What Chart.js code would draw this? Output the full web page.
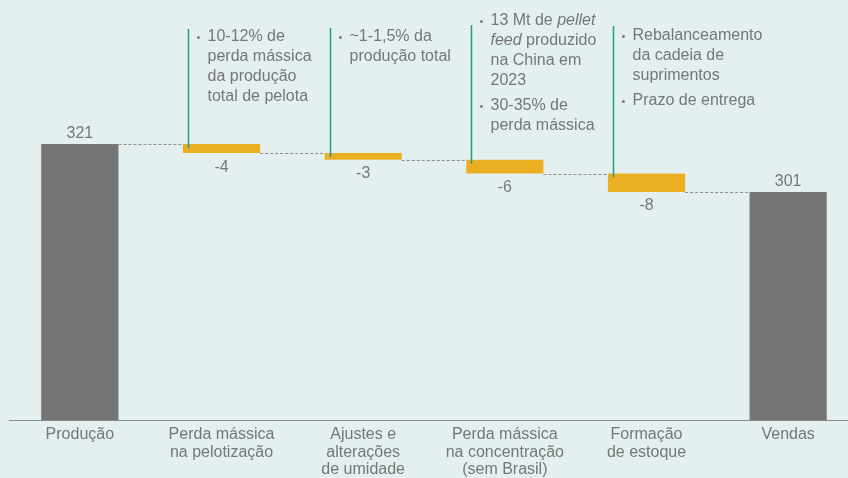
<!DOCTYPE html>
<html>
<head>
<meta charset="utf-8">
<title>Produção x Vendas</title>
<script src="https://cdn.jsdelivr.net/npm/chart.js@4.4.1/dist/chart.umd.min.js"></script>
<style>
  html, body { margin: 0; padding: 0; background: #e4f0f0; overflow: hidden; }
  #wrap { width: 859px; height: 478px; position: relative; }
</style>
</head>
<body>
<div id="wrap"><canvas id="chart"></canvas></div>
<script>
// Data
const categories = [
  ['Produção'],
  ['Perda mássica', 'na pelotização'],
  ['Ajustes e', 'alterações', 'de umidade'],
  ['Perda mássica', 'na concentração', '(sem Brasil)'],
  ['Formação', 'de estoque'],
  ['Vendas']
];
const startTotal = 321;
const endTotal = 301;
const deltas = [-3.8, -2.8, -5.7, -7.7];
const deltaLabels = ['-4', '-3', '-6', '-8'];
const totalLabels = ['321', '301'];

// Bullet notes per step bar; *text* = italic
const notes = [
  [['10-12% de', 'perda mássica', 'da produção', 'total de pelota']],
  [['~1-1,5% da', 'produção total']],
  [['13 Mt de *pellet*', '*feed* produzido', 'na China em', '2023'], ['30-35% de', 'perda mássica']],
  [['Rebalanceamento', 'da cadeia de', 'suprimentos'], ['Prazo de entrega']]
];

// Layout of the note blocks (pixels)
const noteTextY = [37, 37, 21, 36];
const noteLineTop = [29, 28, 25, 26];

const Y_MIN = 206;
const Y_MAX = 381;

const GREY = '#757575';
const YELLOW = '#ebb022';
const TEAL = '#1f9a8c';
const TEXT = '#767676';
const FONT = '"Liberation Sans", Arial, sans-serif';

// build floating bars
const barData = [];
const levels = [];
let running = startTotal;
barData.push([Y_MIN, startTotal]);
levels.push(startTotal);
deltas.forEach(d => {
  const next = running + d;
  barData.push([next, running]);
  levels.push(next);
  running = next;
});
barData.push([Y_MIN, endTotal]);
levels.push(endTotal);

const colors = barData.map((_, i) => (i === 0 || i === barData.length - 1) ? GREY : YELLOW);

function drawRich(ctx, str, x, y) {
  const parts = str.split('*');
  let cx = x;
  parts.forEach((p, k) => {
    if (!p) return;
    ctx.font = (k % 2 ? 'italic ' : '') + '16px ' + FONT;
    ctx.fillText(p, cx, y);
    cx += ctx.measureText(p).width;
  });
}

const waterfallExtras = {
  id: 'waterfallExtras',
  afterDatasetsDraw(chart) {
    const ctx = chart.ctx;
    const y = chart.scales.y;
    const bars = chart.getDatasetMeta(0).data;
    ctx.save();

    // dashed connectors
    ctx.strokeStyle = '#8e8e8e';
    ctx.lineWidth = 1;
    ctx.setLineDash([3, 2]);
    for (let i = 0; i < bars.length - 1; i++) {
      const a = bars[i], b = bars[i + 1];
      const py = Math.round(y.getPixelForValue(levels[i])) + 0.5;
      ctx.beginPath();
      ctx.moveTo(a.x + a.width / 2, py);
      ctx.lineTo(b.x - b.width / 2, py);
      ctx.stroke();
    }
    ctx.setLineDash([]);

    // value labels
    ctx.fillStyle = TEXT;
    ctx.font = '16px ' + FONT;
    ctx.textAlign = 'center';
    ctx.textBaseline = 'alphabetic';
    const first = bars[0], last = bars[bars.length - 1];
    ctx.fillText(totalLabels[0], first.x, Math.min(first.y, first.base) - 6);
    ctx.fillText(totalLabels[1], last.x, Math.min(last.y, last.base) - 6);
    ctx.textBaseline = 'top';
    deltaLabels.forEach((lbl, i) => {
      const b = bars[i + 1];
      ctx.fillText(lbl, b.x, Math.max(b.y, b.base) + 6);
    });

    // note lines + text
    notes.forEach((groups, i) => {
      const b = bars[i + 1];
      const lx = Math.round(b.x - b.width / 2 + 5) + 0.5;
      const top = Math.min(b.y, b.base);
      ctx.strokeStyle = TEAL;
      ctx.lineWidth = 1.5;
      ctx.beginPath();
      ctx.moveTo(lx, noteLineTop[i]);
      ctx.lineTo(lx, top + 4);
      ctx.stroke();

      ctx.textAlign = 'left';
      ctx.textBaseline = 'middle';
      ctx.fillStyle = TEXT;
      let ty = noteTextY[i];
      groups.forEach(lines => {
        ctx.font = '11px ' + FONT;
        ctx.fillText('•', lx + 8, ty + 1);
        lines.forEach(line => {
          drawRich(ctx, line, lx + 19, ty);
          ty += 20;
        });
        ty += 5;
      });
    });
    ctx.restore();
  }
};

new Chart(document.getElementById('chart'), {
  type: 'bar',
  data: {
    labels: categories,
    datasets: [{
      data: barData,
      backgroundColor: colors,
      borderWidth: 0,
      barPercentage: 0.545,
      categoryPercentage: 1
    }]
  },
  options: {
    responsive: true,
    maintainAspectRatio: false,
    animation: false,
    events: [],
    layout: { padding: { left: 9, right: 0, top: 0, bottom: 0 } },
    plugins: { legend: { display: false }, tooltip: { enabled: false } },
    scales: {
      x: {
        grid: { display: false, drawTicks: false },
        border: { display: true, color: '#8a8a8a', width: 1 },
        ticks: {
          color: TEXT,
          font: { family: FONT, size: 16, lineHeight: 1.1 },
          padding: 6,
          maxRotation: 0,
          autoSkip: false
        },
        afterFit(scale) { scale.height = 58; }
      },
      y: {
        display: false,
        min: Y_MIN,
        max: Y_MAX
      }
    }
  },
  plugins: [waterfallExtras]
});
</script>
</body>
</html>
